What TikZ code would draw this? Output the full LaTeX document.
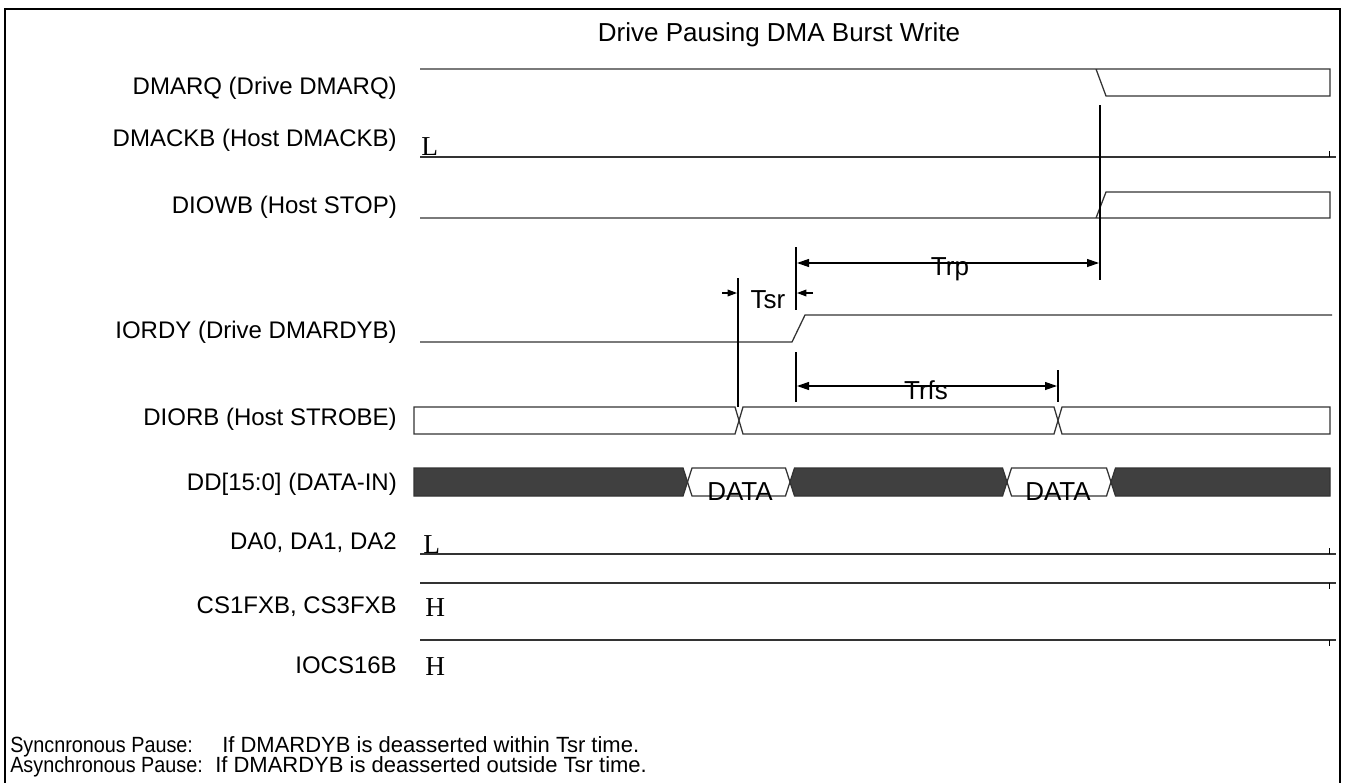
\documentclass[tikz,border=0pt]{standalone}
\usepackage{fontspec}
\setmainfont{Liberation Sans}
\newfontfamily\serifL{Liberation Serif}
\newfontfamily\narrowf[FakeStretch=0.9]{Liberation Sans}
\usetikzlibrary{arrows.meta}
\definecolor{busdark}{HTML}{404040}
\begin{document}
\begin{tikzpicture}[x=0.75pt,y=-0.75pt,
  sig/.style={draw=black!80,line width=0.95pt,line join=miter},
  tline/.style={draw=black,line width=1.5pt},
  dimarrow/.style={draw=black,line width=0.9pt,{Triangle[length=9pt,width=6pt]}-{Triangle[length=9pt,width=6pt]}},
  onearrow/.style={draw=black,line width=0.9pt,-{Triangle[length=7pt,width=5pt]}},
  lab/.style={anchor=base east,inner sep=0pt,font=\fontsize{18}{20}\selectfont},
  lvl/.style={anchor=base west,inner sep=0pt,font=\serifL\fontsize{20.5}{22}\selectfont},
  big/.style={anchor=base,inner sep=0pt,font=\fontsize{19.5}{22}\selectfont},
  note/.style={anchor=base west,inner sep=0pt,font=\narrowf\fontsize{16.5}{18}\selectfont},
  notetext/.style={anchor=base west,inner sep=0pt,font=\fontsize{16.5}{18}\selectfont},
  tick/.style={draw=black,line width=0.6pt}
]
\useasboundingbox (0,0) rectangle (1346,782);
\clip (0,0) rectangle (1346,782);
\fill[white] (0,0) rectangle (1346,782);
% border
\draw[black,line width=2pt] (5,9) rectangle (1340,800);
% title
\node[big] (title) at (779,41) {Drive Pausing DMA Burst Write};
% labels
\node[lab] (l1) at (397,94.5) {DMARQ (Drive DMARQ)};
\node[lab] (l2) at (397,146.5) {DMACKB (Host DMACKB)};
\node[lab] (l3) at (397,213.5) {DIOWB (Host STOP)};
\node[lab] (l4) at (397,338.5) {IORDY (Drive DMARDYB)};
\node[lab] (l5) at (397,425.5) {DIORB (Host STROBE)};
\node[lab] (l6) at (397,490.5) {DD[15:0] (DATA-IN)};
\node[lab] (l7) at (397,549.5) {DA0, DA1, DA2};
\node[lab] (l8) at (397,613.5) {CS1FXB, CS3FXB};
\node[lab] (l9) at (397,673.5) {IOCS16B};
% DMARQ
\draw[sig] (420,69) -- (1330,69) -- (1330,96) -- (1106,96) -- (1096,69);
% DMACKB
\draw[sig] (420,157) -- (1336,157);
\draw[tick] (1329,151) -- (1329,157);
\node[lvl] (lv1) at (421,155) {L};
% DIOWB
\draw[sig] (420,218) -- (1330,218) -- (1330,192) -- (1106,192) -- (1096,218);
% IORDY
\draw[sig] (420,342) -- (792,342) -- (805,315) -- (1332,315);
% DIORB bus
\draw[sig] (414,407) -- (735,407) -- (739,420.5) -- (735,434) -- (414,434) -- cycle;
\draw[sig] (739,420.5) -- (743,407) -- (1054,407) -- (1058,420.5) -- (1054,434) -- (743,434) -- cycle;
\draw[sig] (1058,420.5) -- (1062,407) -- (1330,407) -- (1330,434) -- (1062,434) -- cycle;
% DD bus
\filldraw[sig,fill=busdark] (414,468) -- (683,468) -- (687.5,482) -- (683,496) -- (414,496) -- cycle;
\draw[sig] (687.5,482) -- (692,468) -- (785.5,468) -- (790,482) -- (785.5,496) -- (692,496) -- cycle;
\filldraw[sig,fill=busdark] (790,482) -- (794.5,468) -- (1002.5,468) -- (1007,482) -- (1002.5,496) -- (794.5,496) -- cycle;
\draw[sig] (1007,482) -- (1011.5,468) -- (1106.5,468) -- (1111,482) -- (1106.5,496) -- (1011.5,496) -- cycle;
\filldraw[sig,fill=busdark] (1111,482) -- (1115.5,468) -- (1330,468) -- (1330,496) -- (1115.5,496) -- cycle;
\node[big] (d1) at (740,500) {DATA};
\node[big] (d2) at (1058,500) {DATA};
% DA0
\draw[sig] (420,554) -- (1336,554);
\draw[tick] (1329,548) -- (1329,554);
\node[lvl] (lv2) at (423,553) {L};
% CS1FXB
\draw[sig] (420,583) -- (1336,583);
\draw[tick] (1329,583) -- (1329,589);
\node[lvl] (lv3) at (425,616) {H};
% IOCS16B
\draw[sig] (420,640) -- (1336,640);
\draw[tick] (1329,640) -- (1329,646);
\node[lvl] (lv4) at (425,675) {H};
% timing lines
\coordinate (a1) at (1100,105); \coordinate (a2) at (1100,280);
\draw[tline] (a1) -- (a2);
\coordinate (b1) at (796,247); \coordinate (b2) at (796,310);
\draw[tline] (b1) -- (b2);
\coordinate (b3) at (796,352); \coordinate (b4) at (796,402);
\draw[tline] (b3) -- (b4);
\coordinate (c1) at (738,278); \coordinate (c2) at (738,407);
\draw[tline] (c1) -- (c2);
\coordinate (e1) at (1058,370); \coordinate (e2) at (1058,402);
\draw[tline] (e1) -- (e2);
% Trp
\coordinate (trpL) at (797,263); \coordinate (trpR) at (1099,263);
\draw[dimarrow] (trpL) -- (trpR);
\node[big] (trp) at (950,275) {Trp};
% Trfs
\coordinate (trfsL) at (797,386); \coordinate (trfsR) at (1057,386);
\draw[dimarrow] (trfsL) -- (trfsR);
\node[big] (trfs) at (926,399) {Trfs};
% Tsr
\coordinate (tsr1) at (722,293); \coordinate (tsr2) at (737,293);
\coordinate (tsr3) at (813,293); \coordinate (tsr4) at (797,293);
\draw[onearrow] (tsr1) -- (tsr2);
\draw[onearrow] (tsr3) -- (tsr4);
\node[big] (tsr) at (768,308) {Tsr};
% notes
\node[note] (n1) at (10,752) {Syncnronous Pause:};
\node[notetext] (n2) at (222,752) {If DMARDYB is deasserted within Tsr time.};
\node[note] (n3) at (10,772) {Asynchronous Pause:};
\node[notetext] (n4) at (215,772) {If DMARDYB is deasserted outside Tsr time.};
\end{tikzpicture}
\end{document}
